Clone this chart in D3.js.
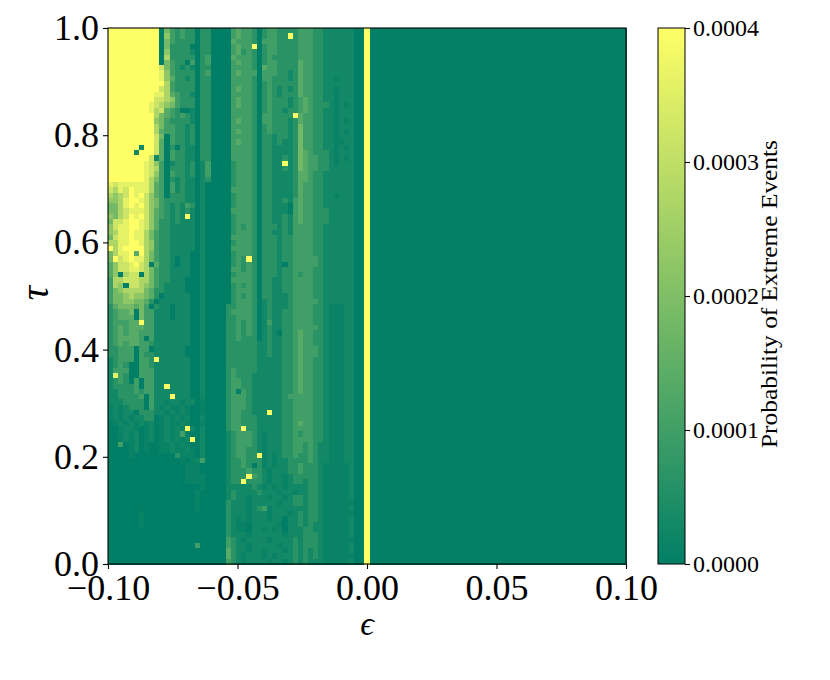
<!DOCTYPE html>
<html><head><meta charset="utf-8">
<script src="https://cdn.jsdelivr.net/npm/d3@7"></script>
<style>html,body{margin:0;padding:0;background:#fff}svg{display:block}text{font-family:"Liberation Serif",serif;fill:#000}</style>
</head><body><svg id="c" width="830" height="680"></svg>
<script>
// Levels; each row runs from tau=1 (top) to tau=0, columns epsilon=-0.10 .. -0.002
const levelChars = ["0","-","1","2","3","4","5","6","7","8","9","a"];
const levelValues = [0.000001,0.000012,0.000028,0.000064,0.0001,0.000136,0.00018,0.000224,0.000272,0.00032,0.00036,0.0004];
const leftRows = [
"aaaaaaaaaa 0532322022 0000343320 2332222333 2211111100",
"aaaaaaaaaa 0632322022 0000343320 23322a2333 2211111100",
"aaaaaaaaaa 0532222022 0000433320 3332222333 2211111100",
"aaaaaaaaaa 0522220022 00003433a0 2332222333 2211111100",
"aaaaaaaaaa 0622221022 0000342320 2332222333 2211111100",
"aaaaaaaaaa 0722222023 0000433320 2322222333 2211111100",
"aaaaaaaaaa 0532203023 0000343320 2332222433 2211111100",
"aaaaaaaaaa 8532121022 0000333320 4332222433 2211111100",
"aaaaaaaaaa 9632222023 0000343330 3332212433 2211111100",
"aaaaaaaaaa 9642212022 0000333320 3322212433 2211-11100",
"aaaaaaaaaa a732222022 0000333320 2322222433 2211111100",
"aaaaaaaaaa 8732222022 0000343320 2321212433 2211-11100",
"aaaaaaaaa9 9743221022 0000333320 2321222433 2211-11100",
"aaaaaaaaa8 8763222022 0000343320 2322212343 2211-11100",
"aaaaaaaa98 7653222022 0000343320 2322212343 2221-1-100",
"aaaaaaaa97 8432001022 0000333320 2322122343 2211-11100",
"aaaaaaaaa7 5432321022 0000333320 332222a433 2211-11100",
"aaaaaaaaa6 5322221022 0000343320 3322212433 2211-1-100",
"aaaaaaaaa7 5332212022 0000333320 2322212533 2211-11100",
"aaaaaaaaa7 4332212022 0000343320 2322212533 2211-1-100",
"aaaaaaaaa8 5032212022 0000333320 2212212533 2211-11100",
"aaaaaaaaa8 4032212022 0000343320 2212112533 2211--1100",
"aaaaaa1aa8 4020211022 0000333320 2211112533 2211-1-100",
"aaaaa1aaa8 4032211022 0000333320 2211112543 2221-11100",
"aaaaaaaa81 4032211022 0000333320 2211212543 3221-1-100",
"aaaaaaa986 3012212013 0000233320 2211a12543 3221-11100",
"aaaaaaa987 3022212013 0000233320 2211212543 3221111100",
"aaaaaaa986 3032212013 0000233320 2211112443 2211111100",
"aaaaaaa975 3021211012 0000233320 2211112443 2211111100",
"9899999974 3031211010 0000233320 2211112433 2211111100",
"8798a99974 3031211010 0000333320 2211112433 2211111100",
"7678a9a864 3022211010 0000233320 2211112433 2211-11100",
"6679aa9865 3222211010 0000233320 2211213433 2211111100",
"5579a9a865 3212132010 0000233320 2211103433 2211111100",
"5578999864 3212121010 0000333320 2211103433 2221111100",
"6578a9a864 32121a1010 0000233320 2211213433 2221111100",
"5889aa9864 2212111010 0000233320 2211213433 2221111100",
"6899aa9864 2211111010 0000232320 2221213333 2211111100",
"6799a99753 2211111010 0000233320 2211213333 2211111100",
"5899a99753 2211111010 0000333320 2221223333 2211111100",
"7799aa9763 2211111010 0000233320 2221223333 2211111100",
"a79aaaa763 2211111010 0000333320 2221223333 2211111100",
"5799a4a753 2211110010 0000233320 2221223333 2211111100",
"5a89a99753 2210110010 0000232a20 2221223333 3211111100",
"46889a8704 2210110010 0000232320 2221023333 3211111100",
"4688998753 2211110010 0000332320 2221223333 2211111100",
"4607880753 2211110010 0000233320 2221223233 2211111100",
"3778887753 2211100010 0000333320 2211223333 2211111100",
"3760887653 2111100010 0000232320 2211223333 2211111100",
"3567777542 2111100010 0000233320 2211223333 2211111100",
"3556766542 0111110010 0000232320 2211123333 2211111100",
"3556655420 1111110010 0000233320 1211123333 3211111100",
"2455545302 1101110010 0002233320 1211123333 221---1100",
"2344505331 1101110010 0002333320 1211223333 221---1100",
"2344405331 1101110010 0002233320 1211223333 221---1100",
"233344a331 1111110010 0002232320 1311223333 221---1100",
"2343444331 1111110010 0002232320 1211223333 321---1100",
"2343443331 1111110010 0002232320 1210223433 221---1100",
"2344443031 1111110010 0002232220 1211223433 221---1100",
"2343443321 1111110010 0002222221 1211223433 221---1100",
"2233303301 1111100010 0002222221 1211223433 321---1100",
"2233303221 1111100010 0002222221 1211223433 321---1100",
"123330332a 1111110010 0002222221 1111223433 221---1100",
"1232003321 1111110010 0002222221 1111223433 221---1100",
"1333003331 1111110010 0002322221 1111223433 221---1100",
"1932003331 1111110010 0002322211 1111223433 221---1100",
"1232030331 1111110010 0002332211 1111223433 221---1100",
"1222230331 1a11110010 0002332211 1111223433 221---1100",
"1122232331 1111110010 0002303211 1111223433 221---1100",
"1122223031 11a1110010 0002333211 1111233333 221---1100",
"1112222031 1-11-110-0 0002333211 1111223333 221---1100",
"-1-1222031 -1--1-00-0 0002333211 1111223333 221---1100",
"-1-1102221 1-1-1-00-0 0002332211 1a11223333 221---1100",
"-1-1-11220 -1-1-10010 0002332221 1111223333 221---1100",
"0-1-1-1-10 -1--1-00-0 0002332221 1111223433 221---1100",
"00-11-0-10 -1-1-a1010 000233a221 1111223333 221---1100",
"00-1-10-10 -1-13-0010 0001233321 -111223233 221---1100",
"00-1-10-10 -1-1-1a010 0001233321 -111223333 221---1100",
"0030-10-00 --1-1-0010 0001233321 -111223323 211---1100",
"0000-10-00 --1--1-010 0001233221 -111223323 211---1100",
"0000-00000 0002---010 000123322a -1-1223223 211---1100",
"0000000000 0000-0-130 0001223222 -1-1122223 211---1100",
"0000000000 00000---00 0001223202 -1-1122322 21-----100",
"0000000000 00000---00 0001222322 1-11122322 21-----100",
"0000000000 00000----0 0001222a32 1-11-12222 21-----100",
"0000000000 00000----0 000122a222 1-11-12212 21-----100",
"0000000000 00000000-0 0001111121 -1-1-11112 21-----100",
"0000000000 0000000-00 0001211112 111-11-112 21-----100",
"0000000000 0000000-00 0001211-11 1-11-12212 21-----100",
"0000000000 0000000-00 0002111-11 111-112212 21------00",
"0000000000 0000000-00 0002111-12 3-11111112 21-----100",
"000000-000 0000000000 0002111-11 1-111-1212 21------00",
"000000-000 0000000000 00021-1-11 1-11011212 21-----100",
"000000-000 0000000000 00021--011 111-011212 11-----100",
"0000000000 0000000000 00021--011 -1-1011122 11-----100",
"0000000000 0000000000 0002111-11 1111-11122 21-----100",
"0000000000 0000000000 000321-111 1-11112122 21------00",
"0000000000 0000000300 0003211-11 111-112122 21-----100",
"0000000000 0000000000 0004211-11 -111-12121 21-----100",
"0000000000 0000000000 000421-111 -1-1112121 21------00",
"0000000000 0000000000 000321-111 1-11-12121 11-----100"
];
// epsilon = 0 and above: a saturated column at 0, then a nearly flat floor
const rightColumnValues = [
0.0004,0.000002,0.000004,0.000004,0.000004,0.000004,0.000004,0.000004,0.000004,0.000004,
0.000004,0.000004,0.000004,0.000004,0.000004,0.000004,0.000004,0.000004,0.000004,0.000004,
0.000004,0.000004,0.000004,0.000004,0.000004,0.000004,0.000004,0.000004,0.000004,0.000004,
0.000004,0.000004,0.000004,0.000004,0.000004,0.000004,0.000004,0.000004,0.000004,0.000004,
0.000004,0.000004,0.000004,0.000004,0.000004,0.000004,0.000004,0.000004,0.000004,0.000004,0.000004];
const xTicks = [-0.10,-0.05,0.00,0.05,0.10];
const yTicks = [0.0,0.2,0.4,0.6,0.8,1.0];
const cbTicks = [0,0.0001,0.0002,0.0003,0.0004];
const cbLabel = "Probability of Extreme Events";

const L=108,R=626,T=28,B=564, CL=658,CR=685;
const svg=d3.select("#c");
const cols=d3.range(101), rowsIdx=d3.range(101);
const xBand=d3.scaleBand().domain(cols).range([L,R]);
const yBand=d3.scaleBand().domain(rowsIdx).range([T,B]);
const x=d3.scaleLinear().domain([-0.1,0.1]).range([L,R]);
const y=d3.scaleLinear().domain([0,1]).range([B,T]);
const color=d3.scaleLinear().domain([0,0.0004]).range(["rgb(0,127,102)","rgb(255,255,102)"]).clamp(true);
const levelScale=d3.scaleOrdinal().domain(levelChars).range(levelValues);
const cells=[];
leftRows.forEach((s,r)=>{
  const row=s.replace(/ /g,"");
  for(let c=0;c<50;c++)cells.push({r,c,v:levelScale(row[c])});
  rightColumnValues.forEach((v,i)=>cells.push({r,c:50+i,v}));
});
svg.append("g").attr("shape-rendering","crispEdges").selectAll("rect").data(cells).join("rect")
 .attr("x",d=>xBand(d.c)).attr("y",d=>yBand(d.r))
 .attr("width",xBand.bandwidth()+0.5).attr("height",yBand.bandwidth()+0.5)
 .attr("fill",d=>color(d.v));
svg.append("rect").attr("x",L).attr("y",T).attr("width",R-L).attr("height",B-T).attr("fill","none").attr("stroke","#000").attr("stroke-width",1.1);

const styleAxis=(g,size)=>{g.select(".domain").remove();g.selectAll(".tick line").attr("stroke","#000").attr("stroke-width",1.1);
  g.selectAll("text").attr("font-size",size).attr("font-family",'"Liberation Serif",serif').attr("fill","#000");};
const ax=svg.append("g").attr("transform",`translate(0,${B})`)
 .call(d3.axisBottom(x).tickValues(xTicks).tickSize(5).tickPadding(5).tickFormat(d=>(d<0?"\u2212":"")+Math.abs(d).toFixed(2)));
styleAxis(ax,36);
const ay=svg.append("g").attr("transform",`translate(${L},0)`)
 .call(d3.axisLeft(y).tickValues(yTicks).tickSize(5).tickPadding(4).tickFormat(d3.format(".1f")));
styleAxis(ay,36);

svg.append("text").attr("x",367).attr("y",635).attr("text-anchor","middle").attr("font-size",34).attr("font-style","italic").text("\u03F5");
svg.append("text").attr("transform","translate(48,293) rotate(-90)").attr("text-anchor","middle").attr("font-size",40).attr("font-style","italic").text("\u03C4");

// colour bar
const grad=svg.append("defs").append("linearGradient").attr("id","cb").attr("x1",0).attr("x2",0).attr("y1",1).attr("y2",0);
grad.selectAll("stop").data(color.domain()).join("stop").attr("offset",(d,i)=>i).attr("stop-color",d=>color(d));
svg.append("rect").attr("x",CL).attr("y",T).attr("width",CR-CL).attr("height",B-T).attr("fill","url(#cb)").attr("stroke","#000").attr("stroke-width",1);
const cy=d3.scaleLinear().domain([0,0.0004]).range([B,T]);
const ac=svg.append("g").attr("transform",`translate(${CR},0)`)
 .call(d3.axisRight(cy).tickValues(cbTicks).tickSize(5).tickPadding(3).tickFormat(d3.format(".4f")));
styleAxis(ac,24);
svg.append("text").attr("transform","translate(777,294) rotate(-90)").attr("text-anchor","middle").attr("font-size",24).attr("textLength",308).attr("lengthAdjust","spacingAndGlyphs").text(cbLabel);
</script></body></html>
